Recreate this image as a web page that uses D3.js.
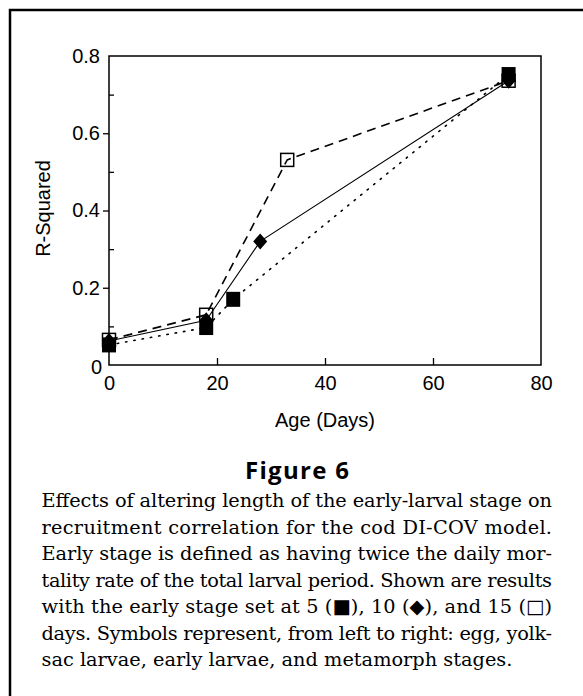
<!DOCTYPE html>
<html>
<head>
<meta charset="utf-8">
<script src="https://cdn.jsdelivr.net/npm/d3@7"></script>
<style>
  html, body { margin: 0; padding: 0; background: #fff; }
  svg { display: block; }
</style>
</head>
<body>
<svg id="chart" width="583" height="696"></svg>
<script>
// ---- data ----
const xTicks = [0, 20, 40, 60, 80];
const yTicks = [0, 0.2, 0.4, 0.6, 0.8];
const yMinorTicks = [0.1, 0.3, 0.5, 0.7];

// early stage = 5 days (filled squares, dotted line)
const ages5  = [0, 18, 23, 74];
const rsq5   = [0.052, 0.097, 0.17, 0.752];
// early stage = 10 days (diamonds, solid line)
const ages10 = [0, 18, 28, 74];
const rsq10  = [0.062, 0.116, 0.32, 0.736];
// early stage = 15 days (open squares, dashed line)
const ages15 = [0, 18, 33, 74];
const rsq15  = [0.065, 0.13, 0.531, 0.736];

const xLabel = "Age (Days)";
const yLabel = "R-Squared";
const figTitle = "Figure 6";
const captionLines = [
  "Effects of altering length of the early-larval stage on",
  "recruitment correlation for the cod DI-COV model.",
  "Early stage is defined as having twice the daily mor-",
  "tality rate of the total larval period. Shown are results",
  "with the early stage set at 5 (\u25A0), 10 (\u25C6), and 15 (\u25A1)",
  "days. Symbols represent, from left to right:  egg, yolk-",
  "sac larvae, early larvae, and metamorph stages."
];

// ---- layout ----
const svg = d3.select("#chart");
const L = 109, R = 541, T = 56, B = 365;
const sans = "'Liberation Sans', Arial, Helvetica, sans-serif";

const x = d3.scaleLinear().domain([0, 80]).range([L, R]);
const y = d3.scaleLinear().domain([0, 0.8]).range([B, T]);

// outer frame (top and left edges)
svg.append("path")
  .attr("d", "M10,696 L10,10 L583,10")
  .attr("fill", "none").attr("stroke", "#000").attr("stroke-width", 2.5);

// plot box
svg.append("rect")
  .attr("x", L).attr("y", T).attr("width", R - L).attr("height", B - T)
  .attr("fill", "none").attr("stroke", "#000").attr("stroke-width", 1.5);

// y axis major ticks (outward) with labels
const yAxis = svg.append("g").attr("transform", `translate(${L},0)`)
  .call(d3.axisLeft(y).tickValues(yTicks).tickSize(6).tickPadding(3)
    .tickFormat(d => d === 0 ? "0" : d3.format(".1f")(d)));
// y axis minor ticks (inward)
const yMinor = svg.append("g").attr("transform", `translate(${L},0)`)
  .call(d3.axisRight(y).tickValues(yMinorTicks).tickSize(5).tickFormat(""));
// x axis ticks (inward) with labels
const xAxis = svg.append("g").attr("transform", `translate(0,${B})`)
  .call(d3.axisBottom(x).tickValues(xTicks).tickSize(-7).tickPadding(10.8)
    .tickFormat(d3.format("d")));

[yAxis, yMinor, xAxis].forEach(g => {
  g.select(".domain").remove();
  g.selectAll("line").attr("stroke", "#000").attr("stroke-width", 1.3);
  g.selectAll("text").attr("font-family", sans).attr("font-size", 20).attr("fill", "#000");
});
// hide ticks at the plot edges that coincide with border
xAxis.selectAll(".tick").filter(d => d === 0 || d === 80).select("line").remove();
yAxis.selectAll(".tick").filter(d => d === 0 || d === 0.8).select("line").remove();
// the "0" on the y axis sits a little lower in the reference
yAxis.selectAll(".tick").filter(d => d === 0).select("text").attr("dy", "0.42em").attr("x", -7);

// axis titles
svg.append("text").attr("x", (L + R) / 2).attr("y", 427)
  .attr("text-anchor", "middle").attr("font-family", sans).attr("font-size", 20)
  .text(xLabel);
svg.append("text").attr("transform", `translate(50,${(T + B) / 2 - 2}) rotate(-90)`)
  .attr("text-anchor", "middle").attr("font-family", sans).attr("font-size", 20)
  .text(yLabel);

// ---- series lines ----
const mk = (xs, ys) => xs.map((v, i) => [v, ys[i]]);
const line = d3.line().x(d => x(d[0])).y(d => y(d[1]));
const s5 = mk(ages5, rsq5), s10 = mk(ages10, rsq10), s15 = mk(ages15, rsq15);

svg.append("path").datum(s5).attr("d", line)
  .attr("fill", "none").attr("stroke", "#000").attr("stroke-width", 1.6)
  .attr("stroke-dasharray", "1.4,7").attr("stroke-linecap", "round");
svg.append("path").datum(s15).attr("d", line)
  .attr("fill", "none").attr("stroke", "#000").attr("stroke-width", 1.6)
  .attr("stroke-dasharray", "9,6");
svg.append("path").datum(s10).attr("d", line)
  .attr("fill", "none").attr("stroke", "#000").attr("stroke-width", 1.1);

// ---- markers ----
svg.append("g").selectAll("rect").data(s15).join("rect")
  .attr("x", d => x(d[0]) - 6.5).attr("y", d => y(d[1]) - 6.5)
  .attr("width", 13).attr("height", 13)
  .attr("fill", "none").attr("stroke", "#000").attr("stroke-width", 1.5);
svg.append("g").selectAll("path").data(s10).join("path")
  .attr("transform", d => `translate(${x(d[0])},${y(d[1])})`)
  .attr("d", "M0,-8 L7,0 L0,8 L-7,0 Z").attr("fill", "#000");
svg.append("g").selectAll("rect").data(s5).join("rect")
  .attr("x", d => x(d[0]) - 7).attr("y", d => y(d[1]) - 7.5)
  .attr("width", 14).attr("height", 15).attr("fill", "#000");

// ---- figure title and caption ----
svg.append("text").attr("x", 245).attr("y", 478.5)
  .attr("font-family", "'Open Sans', Lato, sans-serif").attr("font-weight", 700)
  .attr("font-size", 24).attr("textLength", 104).attr("lengthAdjust", "spacing")
  .text(figTitle);

const capX = 41.5, capW = 510.5, base0 = 507.2, lh = 26.5;
const serif = "'DejaVu Serif', 'Liberation Serif', serif";
let fs = 16.5;
// fit font so the last (unjustified) line has the reference width
const probe = svg.append("text").attr("font-family", serif).attr("font-size", fs)
  .text(captionLines[captionLines.length - 1]);
const w = probe.node().getComputedTextLength();
probe.remove();
if (w > 0) fs = fs * 471 / w;

captionLines.forEach((t, i) => {
  const tx = svg.append("text").attr("x", capX).attr("y", base0 + i * lh)
    .attr("font-family", serif).attr("font-size", fs).attr("fill", "#000").text(t);
  if (i < captionLines.length - 1) {
    tx.attr("textLength", capW).attr("lengthAdjust", "spacing");
  }
});
</script>
</body>
</html>
